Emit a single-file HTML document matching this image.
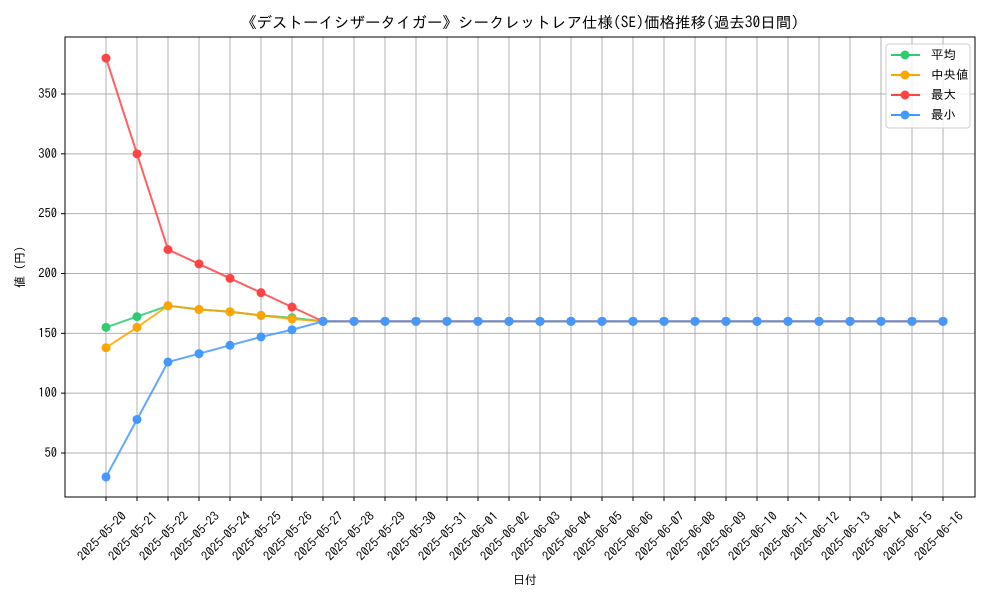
<!DOCTYPE html>
<html><head><meta charset="utf-8"><style>
body{margin:0;background:#fff}
svg text{font-family:"IPAGothic","Noto Sans CJK JP","Liberation Sans",sans-serif;fill:#000}
</style></head><body>
<svg id="chart" width="1000" height="600" xmlns="http://www.w3.org/2000/svg">
<rect width="1000" height="600" fill="#fff"/>
<text x="520" y="28" font-size="15.5" text-anchor="middle">《デストーイシザータイガー》シークレットレア仕様(SE)価格推移(過去30日間)</text>
<g id="grid"></g><g id="series"></g><g id="axes"></g>
<rect x="65" y="37" width="910" height="460" fill="none" stroke="#000" stroke-width="1"/>
<text x="525" y="584" font-size="12" text-anchor="middle">日付</text>
<text transform="translate(24,267) rotate(-90)" font-size="12" text-anchor="middle">値 (円)</text>
<g>
<rect x="886" y="44" width="84" height="84" rx="3" fill="#fff" fill-opacity="0.8" stroke="#ccc"/>
<g id="legend-items"></g>
</g>
</svg>
<script>
const dates=["2025-05-20","2025-05-21","2025-05-22","2025-05-23","2025-05-24","2025-05-25","2025-05-26","2025-05-27","2025-05-28","2025-05-29","2025-05-30","2025-05-31","2025-06-01","2025-06-02","2025-06-03","2025-06-04","2025-06-05","2025-06-06","2025-06-07","2025-06-08","2025-06-09","2025-06-10","2025-06-11","2025-06-12","2025-06-13","2025-06-14","2025-06-15","2025-06-16"];
const avgVals=[155,164,173,170,168,165,163,160,160,160,160,160,160,160,160,160,160,160,160,160,160,160,160,160,160,160,160,160];
const medVals=[138,155,173,170,168,165,162,160,160,160,160,160,160,160,160,160,160,160,160,160,160,160,160,160,160,160,160,160];
const maxVals=[380,300,220,208,196,184,172,160,160,160,160,160,160,160,160,160,160,160,160,160,160,160,160,160,160,160,160,160];
const minVals=[30,78,126,133,140,147,153,160,160,160,160,160,160,160,160,160,160,160,160,160,160,160,160,160,160,160,160,160];
const yTicks=[50,100,150,200,250,300,350];
const seriesNames=["平均","中央値","最大","最小"];
const NS="http://www.w3.org/2000/svg";
const xs=i=>106+i*(943-106)/(dates.length-1);
const ys=v=>453-(v-50)*(359/300);
function mk(t,a,p){const e=document.createElementNS(NS,t);for(const k in a)e.setAttribute(k,a[k]);p.appendChild(e);return e;}
const grid=document.getElementById('grid'),axes=document.getElementById('axes'),ser=document.getElementById('series');
dates.forEach((d,i)=>{const x=xs(i);
 const g=mk('line',{x1:x,x2:x,y1:37,y2:497,stroke:'#b0b0b0','stroke-width':1},grid);
 
 mk('line',{x1:x,x2:x,y1:497,y2:501,stroke:'#000'},axes);
 const t=mk('text',{transform:`translate(${x+21},${517}) rotate(-45)`,'font-size':12.5,'text-anchor':'end'},axes);
 t.textContent=d;});
yTicks.forEach(v=>{const y=ys(v);
 const g=mk('line',{x1:65,x2:975,y1:y,y2:y,stroke:'#b0b0b0','stroke-width':1},grid);
 
 mk('line',{x1:61,x2:65,y1:y,y2:y,stroke:'#000'},axes);
 const t=mk('text',{x:57,y:y+4,'font-size':12.5,'text-anchor':'end'},axes);
 t.textContent=v;});
const all=[avgVals,medVals,maxVals,minVals],cols=["#2ecc71","#ffa500","#ff4444","#4499ff"],keys=["avg","median","max","min"];
all.forEach((vals,s)=>{const g=mk('g',{},ser);
 
 mk('polyline',{points:vals.map((v,i)=>xs(i)+','+ys(v)).join(' '),fill:'none',stroke:cols[s],'stroke-width':2,'stroke-opacity':0.85},g);
 vals.forEach((v,i)=>{const c=mk('circle',{cx:xs(i),cy:ys(v),r:4.5,fill:cols[s]},g);
  });});
const li=document.getElementById('legend-items');
seriesNames.forEach((n,s)=>{const y=55+s*20;const g=mk('g',{},li);
 
 mk('line',{x1:891,x2:920,y1:y,y2:y,stroke:cols[s],'stroke-width':2},g);
 mk('circle',{cx:905,cy:y,r:4.5,fill:cols[s]},g);
 const t=mk('text',{x:931,y:y+4,'font-size':12.5},g);t.textContent=n;});
</script>
</body></html>
